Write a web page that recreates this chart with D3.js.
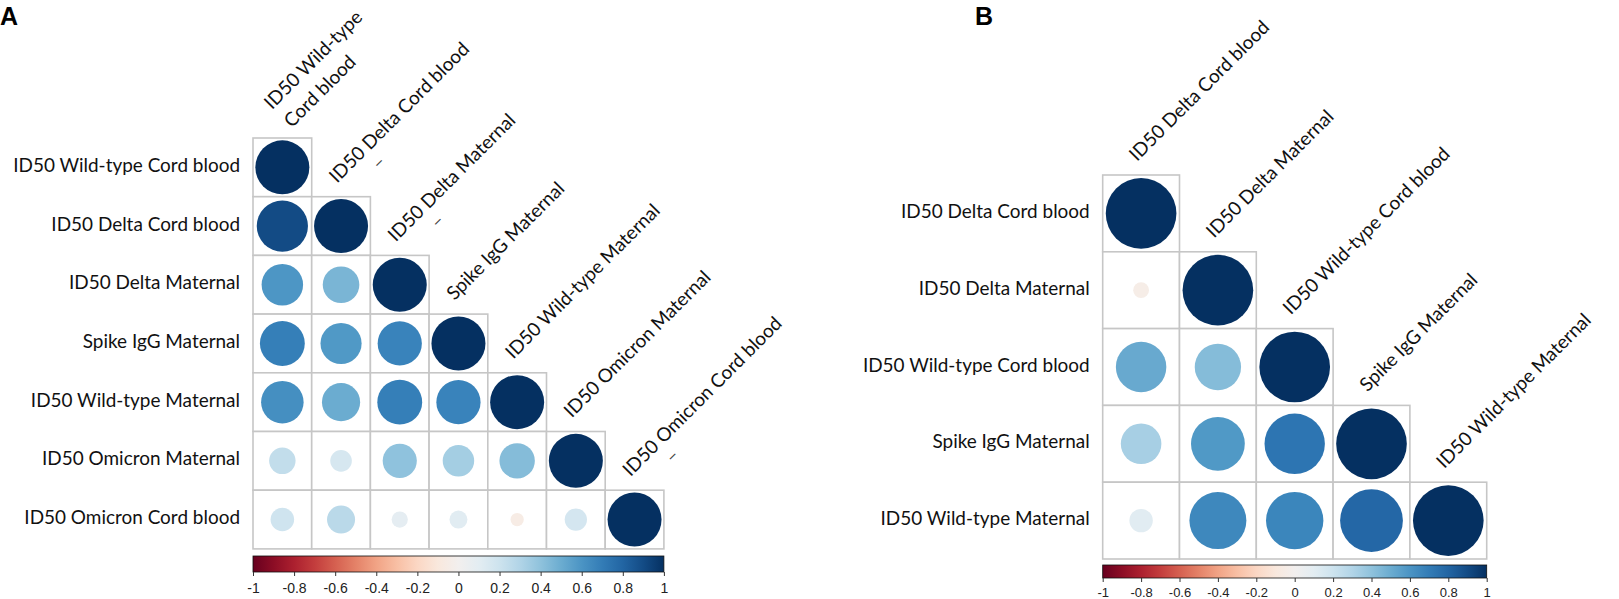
<!DOCTYPE html>
<html>
<head>
<meta charset="utf-8">
<script src="https://d3js.org/d3.v7.min.js"></script>
<style>
body { margin: 0; background: #fff; }
.lab { font-family: Lato, "Open Sans", sans-serif; fill: #111; }
.cbar text { font-family: "Liberation Sans", Arial, sans-serif; fill: #222; }
.cbar line { stroke: #333; }
.letter { font-family: "Liberation Sans", Arial, sans-serif; font-weight: bold; font-size: 25px; }
</style>
</head>
<body>
<svg id="chart" width="1619" height="599"></svg>
<script>
// ---- data ----
var varsA = ["ID50 Wild-type Cord blood", "ID50 Delta Cord blood", "ID50 Delta Maternal",
  "Spike IgG Maternal", "ID50 Wild-type Maternal", "ID50 Omicron Maternal", "ID50 Omicron Cord blood"];
var colLabelsA = [["ID50 Wild-type", "Cord blood"], ["ID50 Delta Cord blood"], ["ID50 Delta Maternal"],
  ["Spike IgG Maternal"], ["ID50 Wild-type Maternal"], ["ID50 Omicron Maternal"], ["ID50 Omicron Cord blood"]];
// lower triangle, row by row
var corrA = [
  [1],
  [0.90, 1],
  [0.59, 0.46, 1],
  [0.69, 0.58, 0.67, 1],
  [0.62, 0.50, 0.69, 0.67, 1],
  [0.24, 0.16, 0.40, 0.34, 0.43, 1],
  [0.19, 0.27, 0.09, 0.11, -0.06, 0.17, 1]
];
var dashA = [false, true, true, false, false, false, true];

var varsB = ["ID50 Delta Cord blood", "ID50 Delta Maternal", "ID50 Wild-type Cord blood",
  "Spike IgG Maternal", "ID50 Wild-type Maternal"];
var colLabelsB = varsB.map(function(d) { return [d]; });
var corrB = [
  [1],
  [-0.05, 1],
  [0.51, 0.43, 1],
  [0.33, 0.58, 0.73, 1],
  [0.11, 0.65, 0.66, 0.79, 1]
];
var dashB = [false, false, false, false, false];

var barTicks = [-1, -0.8, -0.6, -0.4, -0.2, 0, 0.2, 0.4, 0.6, 0.8, 1];

// ---- drawing ----
var svg = d3.select("#chart");
svg.append("rect").attr("width", 1619).attr("height", 599).attr("fill", "#fff");

var color = function(v) { return d3.interpolateRdBu((v + 1) / 2); };

// size the labels so that they are as wide as in the figure
var probe = svg.append("text").attr("class", "lab").style("font-size", "21px").text("ID50 Wild-type Cord blood");
var labSize = 21 * 227 / probe.node().getComputedTextLength();
probe.remove();

var grad = svg.append("defs").append("linearGradient").attr("id", "rdbu");
d3.range(0, 1.0001, 0.05).forEach(function(t) {
  grad.append("stop").attr("offset", t).attr("stop-color", d3.interpolateRdBu(t));
});

function panel(p) {
  var n = p.vars.length;
  var x = d3.scaleBand().domain(p.vars).range([p.x0, p.x0 + n * p.cell]);
  var y = d3.scaleBand().domain(p.vars).range([p.y0, p.y0 + n * p.cell]);
  var g = svg.append("g");

  var cells = [];
  p.corr.forEach(function(row, i) {
    row.forEach(function(v, j) { cells.push({ r: p.vars[i], c: p.vars[j], v: v }); });
  });

  g.selectAll("rect.cell").data(cells).enter().append("rect")
    .attr("class", "cell")
    .attr("x", function(d) { return x(d.c); })
    .attr("y", function(d) { return y(d.r); })
    .attr("width", x.bandwidth())
    .attr("height", y.bandwidth())
    .attr("fill", "#fff")
    .attr("stroke", "#c6c6c6")
    .attr("stroke-width", 1.6);

  g.selectAll("circle").data(cells).enter().append("circle")
    .attr("cx", function(d) { return x(d.c) + x.bandwidth() / 2; })
    .attr("cy", function(d) { return y(d.r) + y.bandwidth() / 2; })
    .attr("r", function(d) { return 0.46 * x.bandwidth() * Math.sqrt(Math.abs(d.v)); })
    .attr("fill", function(d) { return color(d.v); });

  // row labels
  g.selectAll("text.row").data(p.vars).enter().append("text")
    .attr("class", "lab row")
    .attr("x", p.x0 - 13)
    .attr("y", function(d) { return y(d) + y.bandwidth() / 2 + 4.5; })
    .attr("text-anchor", "end")
    .style("font-size", labSize + "px")
    .text(function(d) { return d; });

  // column labels, rotated, sitting on the diagonal cell
  var cl = g.selectAll("text.col").data(p.vars).enter().append("text")
    .attr("class", "lab col")
    .style("font-size", labSize + "px")
    .attr("transform", function(d) {
      return "translate(" + (x(d) + x.bandwidth() / 2 - 4) + "," + (y(d) - 13) + ") rotate(-45)";
    });
  cl.each(function(d, i) {
    var t = d3.select(this), lines = p.cols[i];
    if (lines.length == 2) {
      t.append("tspan").attr("x", 6).attr("y", -15).text(lines[0]);
      t.append("tspan").attr("x", 7).attr("y", 12).text(lines[1]);
    } else {
      t.append("tspan").attr("x", 0).attr("y", 0).text(lines[0]);
    }
    if (p.dash[i]) {
      t.append("tspan").attr("x", 40).attr("y", 13).attr("fill", "#444").text("_");
    }
  });

  // colour key
  var bar = svg.append("g").attr("class", "cbar");
  var bx = d3.scaleLinear().domain([-1, 1]).range([p.x0, p.x0 + n * p.cell]);
  bar.append("rect")
    .attr("x", bx(-1)).attr("y", p.barY)
    .attr("width", bx(1) - bx(-1)).attr("height", p.barH)
    .attr("fill", "url(#rdbu)")
    .attr("stroke", "#111").attr("stroke-width", 0.8);
  var ax = bar.append("g")
    .attr("transform", "translate(0," + (p.barY + p.barH) + ")")
    .call(d3.axisBottom(bx).tickValues(barTicks).tickSizeInner(4).tickSizeOuter(0)
      .tickFormat(function(d) { return String(+d.toFixed(1)); }));
  ax.select(".domain").remove();
  ax.selectAll("text")
    .attr("y", p.tickBase).attr("dy", 0)
    .style("font-size", p.tickSize + "px")
    .style("font-family", "'Liberation Sans', Arial, sans-serif");
}

panel({ vars: varsA, cols: colLabelsA, corr: corrA, dash: dashA,
  x0: 253, y0: 138, cell: 58.7, barY: 556, barH: 16, tickBase: 21, tickSize: 14 });
panel({ vars: varsB, cols: colLabelsB, corr: corrB, dash: dashB,
  x0: 1102.7, y0: 175, cell: 76.8, barY: 565, barH: 13, tickBase: 19, tickSize: 13 });

svg.append("text").attr("class", "letter").attr("x", 0).attr("y", 25).text("A");
svg.append("text").attr("class", "letter").attr("x", 975).attr("y", 25).text("B");
</script>
</body>
</html>
